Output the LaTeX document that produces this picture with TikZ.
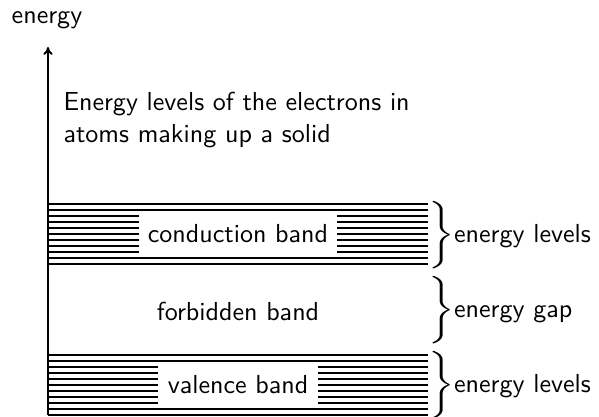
\documentclass[tikz,border=0pt]{standalone}
\usepackage{graphicx}
\usetikzlibrary{arrows.meta}
\newcommand{\bigbrace}{\scalebox{1.35}[1.08]{$\bigg\}$}}
\begin{document}
\begin{tikzpicture}[x=0.384pt,y=-0.384pt,font=\sffamily,
  level/.style={line width=0.5pt},
  axisline/.style={line width=0.7pt,-{To[length=3pt,width=3.5pt]}},
  bandlabel/.style={fill=white,inner sep=0pt,minimum height=16pt},
  bracelabel/.style={anchor=west,inner sep=0pt}]
\useasboundingbox (0,0) rectangle (599,417);
% energy levels
\foreach \i in {0,...,10} {
  \draw[level] (48,204+6*\i) -- (428,204+6*\i);
  \draw[level] (48,355+6*\i) -- (428,355+6*\i);
}
\coordinate (base) at (48,415);
\coordinate (tip) at (48,47);
\draw[axisline] (base) -- (tip);
\node (elabel) at (47,20) {energy};
\node[anchor=west,align=left,inner sep=0pt] (desc) at (63,120)
  {Energy levels of the electrons in\\atoms making up a solid};
\node[bandlabel,minimum width=76.4pt] (cb) at (238,234) {conduction band};
\node[bandlabel,minimum width=61.1pt] (vb) at (238,385) {valence band};
\node (fb) at (238,311) {forbidden band};
\node[bracelabel] (b1) at (428,235) {\bigbrace\kern-0.3pt energy levels};
\node[bracelabel] (b2) at (428,310) {\bigbrace\kern-0.3pt energy gap};
\node[bracelabel] (b3) at (428,385) {\bigbrace\kern-0.3pt energy levels};
\end{tikzpicture}
\end{document}
